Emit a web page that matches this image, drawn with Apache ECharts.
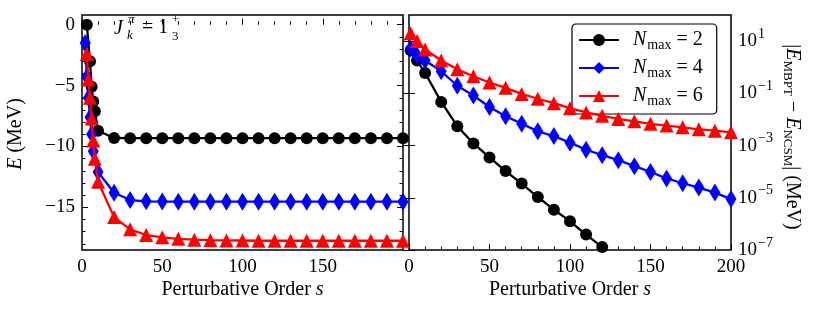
<!DOCTYPE html>
<html><head><meta charset="utf-8">
<script src="https://cdn.jsdelivr.net/npm/echarts@6.0.0/dist/echarts.min.js"></script>
<style>html,body{margin:0;padding:0;background:#fff}#c{width:814px;height:313px}</style>
</head><body><div id="c"></div>
<script>
// ---------- data ----------
const nmaxValues = [2, 4, 6];
const seriesColors = ['#000000', '#0000ff', '#ff0000'];

// Left panel: energy E (MeV) vs perturbative order s
const leftBlackS = [3,5,6,7,8,10,20,30,40,50,60,70,80,90,100,110,120,130,140,150,160,170,180,190,200];
const leftBlackE = [0.0,-3.0,-5.1,-6.3,-7.1,-8.7,-9.30,-9.32,-9.32,-9.32,-9.32,-9.32,-9.32,-9.32,-9.32,-9.32,-9.32,-9.32,-9.32,-9.32,-9.32,-9.32,-9.32,-9.32,-9.32];
const leftBlueS = [2,3,4,5,6,7,10,20,30,40,50,60,70,80,90,100,110,120,130,140,150,160,170,180,190,200];
const leftBlueE = [-1.5,-4.3,-6.0,-7.6,-9.0,-10.4,-12.1,-13.8,-14.4,-14.5,-14.52,-14.53,-14.53,-14.53,-14.53,-14.53,-14.53,-14.53,-14.53,-14.53,-14.53,-14.53,-14.53,-14.53,-14.53,-14.53];
const leftRedS = [3,4,5,6,7,8,10,20,30,40,50,60,70,80,90,100,110,120,130,140,150,160,170,180,190,200];
const leftRedE = [-2.4,-4.5,-6.0,-7.7,-9.5,-11.0,-12.9,-15.8,-16.8,-17.27,-17.46,-17.58,-17.65,-17.69,-17.71,-17.72,-17.74,-17.74,-17.74,-17.74,-17.74,-17.74,-17.74,-17.74,-17.74,-17.74];

// Right panel: |E_MBPT - E_NCSM| (MeV) vs s
const rightBlackS = [1,5,10,20,30,40,50,60,70,80,90,100,110,120];
const rightBlack = [4.5,1.8,0.60,0.047,5.5e-3,1.2e-3,3.5e-4,1.05e-4,3.5e-5,1.07e-5,3.5e-6,1.26e-6,3.9e-7,1.29e-7];
const rightS = [1,5,10,20,30,40,50,60,70,80,90,100,110,120,130,140,150,160,170,180,190,200];
const rightBlue = [5.2,2.8,1.8,0.70,0.195,0.083,0.030,0.0132,6.9e-3,3.5e-3,2.3e-3,1.29e-3,6.9e-4,4.3e-4,2.75e-4,1.62e-4,9.8e-5,5.5e-5,3.6e-5,2.45e-5,1.58e-5,8.9e-6];
const rightRed = [20,10,4.8,1.8,0.83,0.45,0.26,0.162,0.095,0.062,0.042,0.027,0.0186,0.0138,0.0105,8.5e-3,6.8e-3,5.8e-3,5.0e-3,4.2e-3,3.7e-3,3.2e-3];

// ticks
const leftXLabels = [0,50,100,150];
const leftXMajor = [0,50,100,150,200];
const rightXLabels = [0,50,100,150,200];
const xMinor = [10,20,30,40,60,70,80,90,110,120,130,140,160,170,180,190];
const leftYMajor = [-15,-10,-5,0];
const leftYMinor = [-18,-17,-16,-14,-13,-12,-11,-9,-8,-7,-6,-4,-3,-2,-1];
const rightYMajor = [1e-7,1e-5,1e-3,1e-1,1e1];

// ---------- chart ----------
const F = '"Liberation Serif", "DejaVu Serif", serif';
const FS = 19;
const FT = 20;
const chart = echarts.init(document.getElementById('c'), null, {renderer: 'canvas'});
const pairs = (xs, ys) => xs.map((x, i) => [x, ys[i]]);
const minus = v => (v < 0 ? '\u2212' + Math.abs(v) : String(v));

function tickAxis(o) {
  return Object.assign({
    type: 'value', splitLine: {show: false},
    axisLine: {show: false},
    axisTick: {show: true, inside: true, length: o.len || 6, customValues: o.ticks, lineStyle: {color: '#000', width: 1}},
    axisLabel: {show: false}
  }, o.extra || {});
}
function withLabels(ax, vals, fmt, margin) {
  ax.axisLabel = {show: true, customValues: vals, formatter: fmt, margin: margin, color: '#000', fontFamily: F, fontSize: FS};
  return ax;
}

const xAxes = [
  withLabels(tickAxis({ticks: leftXMajor, len: 6, extra: {gridIndex: 0, min: 0, max: 200, position: 'bottom'}}), leftXLabels, v => String(v), 8),
  tickAxis({ticks: xMinor, len: 3.5, extra: {gridIndex: 0, min: 0, max: 200, position: 'bottom'}}),
  withLabels(tickAxis({ticks: leftXMajor, len: 6, extra: {gridIndex: 1, min: 0, max: 200, position: 'bottom'}}), rightXLabels, v => String(v), 8),
  tickAxis({ticks: xMinor, len: 3.5, extra: {gridIndex: 1, min: 0, max: 200, position: 'bottom'}})
];
const logFmt = v => {
  const e = Math.round(Math.log10(v));
  return '{b|10}{s|' + (e < 0 ? '\u2212' + Math.abs(e) : e) + '}';
};
const yAxes = [
  withLabels(tickAxis({ticks: leftYMajor, len: 6, extra: {gridIndex: 0, min: -18.5, max: 0.8, position: 'left'}}), leftYMajor, minus, 7),
  tickAxis({ticks: leftYMinor, len: 3.5, extra: {gridIndex: 0, min: -18.5, max: 0.8, position: 'left'}}),
  tickAxis({ticks: leftYMajor, len: 6, extra: {gridIndex: 0, min: -18.5, max: 0.8, position: 'right'}}),
  tickAxis({ticks: leftYMinor, len: 3.5, extra: {gridIndex: 0, min: -18.5, max: 0.8, position: 'right'}}),
  tickAxis({ticks: rightYMajor, len: 6, extra: {gridIndex: 1, type: 'log', logBase: 10, min: 1e-7, max: 100, position: 'left'}}),
  tickAxis({ticks: rightYMajor, len: 6, extra: {gridIndex: 1, type: 'log', logBase: 10, min: 1e-7, max: 100, position: 'right'}})
];
yAxes[5].axisLabel = {
  show: true, customValues: rightYMajor, formatter: logFmt, margin: 7, color: '#000',
  rich: {
    b: {fontFamily: F, fontSize: FS, color: '#000'},
    s: {fontFamily: F, fontSize: 14, color: '#000', padding: [0, 0, 14, 1]}
  }
};

const symbols = ['circle', 'diamond', 'triangle'];
const symSizes = [12, [11, 18], [14, 14]];
const names = nmaxValues.map(n => 'Nmax' + n);
const leftData = [pairs(leftBlackS, leftBlackE), pairs(leftBlueS, leftBlueE), pairs(leftRedS, leftRedE)];
const rightData = [pairs(rightBlackS, rightBlack), pairs(rightS, rightBlue), pairs(rightS, rightRed)];

const series = [];
for (let i = 0; i < 3; i++) {
  const common = {
    type: 'line', name: names[i], symbol: symbols[i], symbolSize: symSizes[i],
    showAllSymbol: true, animation: false, clip: true,
    lineStyle: {color: seriesColors[i], width: 2.3},
    itemStyle: {color: seriesColors[i], borderWidth: 0},
    emphasis: {disabled: true}, z: 3 + i
  };
  series.push(Object.assign({}, common, {xAxisIndex: 0, yAxisIndex: 0, data: leftData[i]}));
  series.push(Object.assign({}, common, {xAxisIndex: 2, yAxisIndex: 4, data: rightData[i]}));
}

const T = (text, x, y, size, style) => ({
  type: 'text', x: x, y: y, z: 10,
  style: {text: text, fontFamily: F, fontSize: size, fontStyle: style || 'normal', fill: '#000', align: 'left', verticalAlign: 'middle'}
});
const titleText = (x, y) => ({
  type: 'text', x: x, y: y, z: 10,
  style: {
    text: '{n|Perturbative Order }{i|s}', align: 'center', verticalAlign: 'middle',
    rich: {i: {fontFamily: F, fontSize: FT, fontStyle: 'italic'}, n: {fontFamily: F, fontSize: FT}}
  }
});

const option = {
  animation: false,
  backgroundColor: '#fff',
  grid: [
    {left: 82, top: 15, width: 321, height: 235, show: true, borderColor: '#000', borderWidth: 1.5, backgroundColor: 'transparent'},
    {left: 409, top: 15, width: 322, height: 235, show: true, borderColor: '#000', borderWidth: 1.5, backgroundColor: 'transparent'}
  ],
  xAxis: xAxes,
  yAxis: yAxes,
  legend: {
    show: true, orient: 'vertical', left: 572, top: 24,
    data: names,
    itemWidth: 40, itemHeight: 15, itemGap: 6,
    padding: [6, 14, 6, 6],
    backgroundColor: '#fff', borderColor: '#000', borderWidth: 1.2, borderRadius: 4,
    selectedMode: false,
    formatter: name => '{i|N}{s|max}{t| = ' + name.replace('Nmax', '') + '}',
    textStyle: {
      fontFamily: F, fontSize: FT, color: '#000', lineHeight: 20,
      rich: {
        i: {fontFamily: F, fontSize: FT, fontStyle: 'italic', padding: [0, 1, 0, 9]},
        s: {fontFamily: F, fontSize: 14, padding: [10, 0, 0, 0]},
        t: {fontFamily: F, fontSize: FT}
      }
    }
  },
  graphic: [
    T('J', 114, 29, FT, 'italic'),
    T('\u03c0', 128, 20, 13, 'italic'),
    T('k', 127, 36, 13, 'italic'),
    T('= 1', 142, 28, FT),
    T('+', 172, 20, 13),
    T('3', 172, 37, 13),
    {
      type: 'text', x: 16, y: 134, rotation: Math.PI / 2, z: 10,
      style: {
        text: '{i|E}{n| (MeV)}', align: 'center', verticalAlign: 'middle',
        rich: {i: {fontFamily: F, fontSize: FT, fontStyle: 'italic'}, n: {fontFamily: F, fontSize: FT}}
      }
    },
    {
      type: 'text', x: 792, y: 137, rotation: -Math.PI / 2, z: 10,
      style: {
        text: '{n||}{i|E}{s|MBPT}{n| \u2212 }{i|E}{s|NCSM}{n|| (MeV)}', align: 'center', verticalAlign: 'middle',
        rich: {
          i: {fontFamily: F, fontSize: FT, fontStyle: 'italic'},
          n: {fontFamily: F, fontSize: FT},
          s: {fontFamily: F, fontSize: 13, padding: [10, 0, 0, 0]}
        }
      }
    },
    titleText(242.5, 290),
    titleText(570, 290)
  ],
  series: series
};
chart.setOption(option);
</script></body></html>
